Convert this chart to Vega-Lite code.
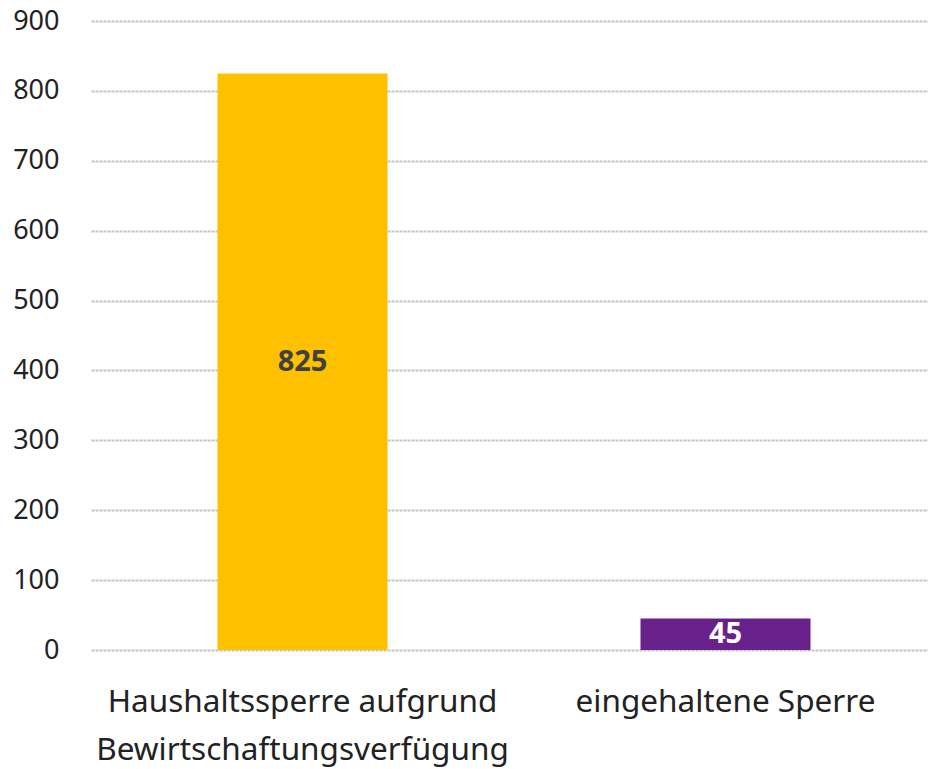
{
  "$schema": "https://vega.github.io/schema/vega-lite/v6.json",
  "autosize": "none",
  "width": 846,
  "height": 629,
  "padding": {"left": 91, "top": 21, "right": -9, "bottom": 119},
  "background": "white",
  "config": {"view": {"stroke": null}, "font": "Noto Sans"},
  "data": {"values": [
    {"kategorie": "Haushaltssperre aufgrund Bewirtschaftungsverfügung", "anzahl": 825},
    {"kategorie": "eingehaltene Sperre", "anzahl": 45}
  ]},
  "encoding": {
    "x": {"field": "kategorie", "type": "nominal", "sort": null,
      "scale": {"paddingInner": 0, "paddingOuter": 0},
      "axis": {"title": null, "labelAngle": 0, "domain": false, "ticks": false,
        "labelFont": "Noto Sans", "labelFontSize": 31.5, "labelColor": "#222222",
        "labelPadding": 36, "labelLineHeight": 48, "labelLimit": 700, "labelBaseline": "top",
        "labelExpr": "datum.label == 'Haushaltssperre aufgrund Bewirtschaftungsverfügung' ? ['Haushaltssperre aufgrund', 'Bewirtschaftungsverfügung'] : datum.label"}}
  },
  "layer": [
    {"mark": {"type": "bar", "size": 170},
     "encoding": {
       "y": {"field": "anzahl", "type": "quantitative",
         "scale": {"domain": [0, 900], "nice": false},
         "axis": {"title": null, "values": [0,100,200,300,400,500,600,700,800,900],
           "domain": false, "ticks": false, "labelPadding": 32,
           "labelFont": "Noto Sans", "labelFontSize": 27, "labelColor": "#222222",
           "gridColor": "#c4c4c4", "gridWidth": 2, "gridDash": [3, 1]}},
       "color": {"field": "kategorie", "type": "nominal", "legend": null,
       "scale": {"domain": ["Haushaltssperre aufgrund Bewirtschaftungsverfügung", "eingehaltene Sperre"], "range": ["#FFC000", "#68208A"]}}}},
    {"transform": [{"calculate": "datum.anzahl / 2", "as": "mitte"}],
     "mark": {"type": "text", "font": "Noto Sans", "fontWeight": "bold", "fontSize": 29, "baseline": "middle", "align": "center"},
     "encoding": {
       "y": {"field": "mitte", "type": "quantitative"},
       "text": {"field": "anzahl", "type": "quantitative"},
       "color": {"condition": {"test": "datum.anzahl > 100", "value": "#404040"}, "value": "#ffffff"}
     }}
  ]
}
